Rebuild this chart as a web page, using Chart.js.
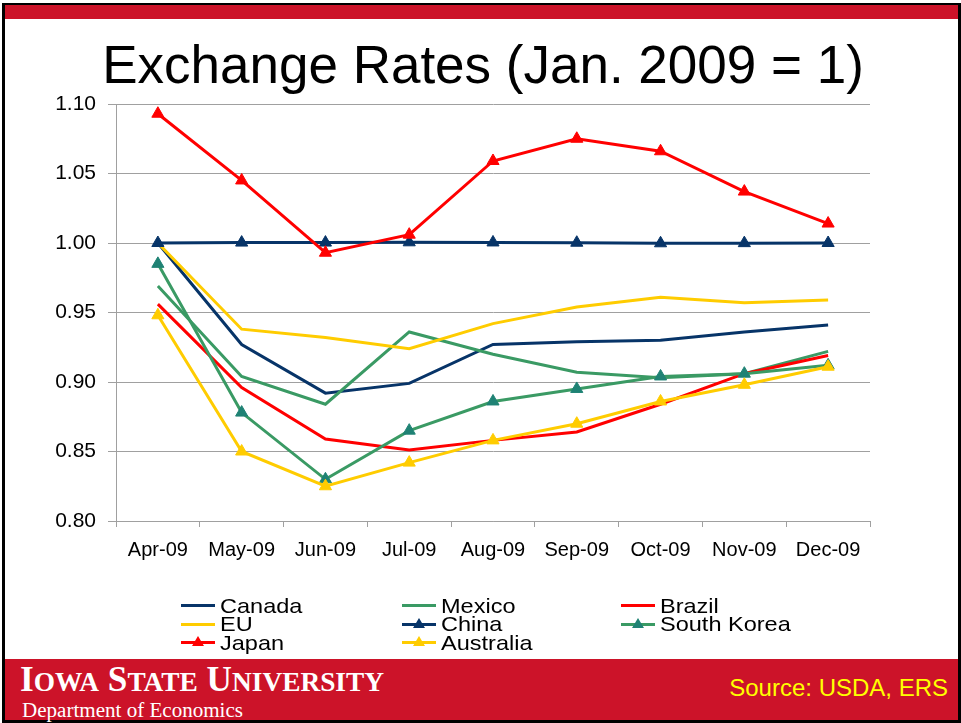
<!DOCTYPE html>
<html>
<head>
<meta charset="utf-8">
<script src="https://cdn.jsdelivr.net/npm/chart.js@4/dist/chart.umd.min.js"></script>
<style>
body { margin: 0; width: 961px; height: 723px; position: relative; overflow: hidden; background: #fff; font-family: "Liberation Sans", Arial, sans-serif; }
.frame { position: absolute; left: 2px; top: 3px; width: 959px; height: 720px; box-sizing: border-box; border: 3px solid #000; }
.topbar { position: absolute; left: 5px; top: 5px; width: 953px; height: 14px; background: #cc1329; }
.footer { position: absolute; left: 5px; top: 659px; width: 953px; height: 61px; background: #cc1329; }
.title { position: absolute; left: 0; top: 38px; width: 966px; text-align: center; font-size: 53px; line-height: 53px; color: #000; white-space: nowrap; }
.wrap { position: absolute; left: 0; top: 0; width: 961px; height: 600px; }
.item { position: absolute; height: 18px; display: flex; align-items: center; font-size: 21px; line-height: 18px; white-space: nowrap; }
.sw { width: 34px; height: 3px; position: relative; margin-right: 5px; flex: none; }
.tri { position: absolute; left: 11px; top: -5px; width: 0; height: 0; border-left: 6px solid transparent; border-right: 6px solid transparent; border-bottom: 10px solid #000; }
.txt { display: inline-block; transform-origin: left center; }
.isu { position: absolute; left: 20px; top: 661px; font-family: "Liberation Serif", "Times New Roman", serif; font-weight: bold; color: #fff; font-size: 36px; line-height: 36px; white-space: nowrap; transform-origin: left center; }
.isu .sm { font-size: 28px; }
.dept { position: absolute; left: 22px; top: 700px; font-family: "Liberation Serif", "Times New Roman", serif; color: #fff; font-size: 20px; line-height: 20px; white-space: nowrap; transform-origin: left center; }
.source { position: absolute; right: 13px; top: 676px; color: #ffff00; font-size: 24px; line-height: 24px; white-space: nowrap; }
</style>
</head>
<body>
<div class="frame"></div>
<div class="topbar"></div>
<div class="footer"></div>
<div class="title">Exchange Rates (Jan. 2009 = 1)</div>
<div class="wrap"><canvas id="myChart"></canvas></div>
<div id="legend"></div>
<div class="isu" id="isu">I<span class="sm">OWA</span> S<span class="sm">TATE</span> U<span class="sm">NIVERSITY</span></div>
<div class="dept" id="dept">Department of Economics</div>
<div class="source">Source: USDA, ERS</div>
<script>
const months = ['Apr-09', 'May-09', 'Jun-09', 'Jul-09', 'Aug-09', 'Sep-09', 'Oct-09', 'Nov-09', 'Dec-09'];
const yTicks = [0.80, 0.85, 0.90, 0.95, 1.00, 1.05, 1.10];

const canada = [1.000, 0.927, 0.892, 0.899, 0.927, 0.929, 0.930, 0.936, 0.941];
const mexico = [0.969, 0.904, 0.884, 0.936, 0.920, 0.907, 0.903, 0.906, 0.922];
const brazil = [0.956, 0.896, 0.859, 0.851, 0.858, 0.864, 0.884, 0.906, 0.919];
const eu = [1.000, 0.938, 0.932, 0.924, 0.942, 0.954, 0.961, 0.957, 0.959];
const china = [1.000, 1.0003, 1.0003, 1.0005, 1.0004, 1.0002, 0.9998, 0.9999, 1.000];
const southKorea = [0.985, 0.878, 0.830, 0.865, 0.886, 0.895, 0.904, 0.906, 0.912];
const japan = [1.093, 1.045, 0.993, 1.006, 1.059, 1.075, 1.066, 1.037, 1.014];
const australia = [0.948, 0.850, 0.825, 0.842, 0.858, 0.870, 0.886, 0.898, 0.911];

const navy = '#073468';
const green = '#3a9a64';
const teal = '#1f8274';
const red = '#ff0000';
const yellow = '#ffcc00';
const gray = '#a0a0a0';

function series(label, data, color, marker, markerColor)
{
    return {
        label: label,
        data: data,
        borderColor: color,
        backgroundColor: color,
        borderWidth: 3,
        pointStyle: 'triangle',
        pointRadius: marker ? 7 : 0,
        pointHoverRadius: marker ? 7 : 0,
        pointBackgroundColor: markerColor || color,
        pointBorderColor: markerColor || color,
        pointBorderWidth: 1,
        tension: 0,
        fill: false
    };
}

let sets = [
    series('Canada', canada, navy, false),
    series('Mexico', mexico, green, false),
    series('Brazil', brazil, red, false),
    series('EU', eu, yellow, false),
    series('China', china, navy, true),
    series('South Korea', southKorea, green, true, teal),
    series('Japan', japan, red, true),
    series('Australia', australia, yellow, true)
];
// later series on top, like excel
for (let i = 0; i < sets.length; i++) {
    sets[i].order = sets.length - i;
}

let canvas = document.getElementById('myChart').getContext('2d');
let myChart = new Chart(canvas, {
    type: 'line',
    data: { labels: months, datasets: sets },
    options: {
        responsive: true,
        maintainAspectRatio: false,
        animation: false,
        layout: { padding: { top: 104, right: 91, left: 0, bottom: 0 } },
        plugins: { legend: { display: false }, tooltip: { enabled: false } },
        scales: {
            x: {
                offset: true,
                grid: { offset: true, drawOnChartArea: false, tickLength: 6, color: gray },
                border: { color: gray },
                ticks: { color: '#000', padding: 11, maxRotation: 0, font: { size: 20, family: '"Liberation Sans", Arial' } },
                afterFit: function(axis) { axis.height = 79; }
            },
            y: {
                min: 0.8,
                max: 1.1,
                afterBuildTicks: function(axis) { axis.ticks = yTicks.map(v => ({ value: v })); },
                grid: { color: gray, tickLength: 8 },
                border: { color: gray },
                ticks: {
                    color: '#000',
                    padding: 12,
                    font: { size: 21, family: '"Liberation Sans", Arial' },
                    callback: function(v) { return Number(v).toFixed(2); }
                },
                afterFit: function(axis) { axis.width = 116; }
            }
        }
    }
});

// legend, 3 columns like the slide
const legendCols = [181, 402, 621];
const legendRows = [596.5, 615, 633.5];
const legend = document.getElementById('legend');
myChart.data.datasets.forEach(function(ds, i) {
    let item = document.createElement('div');
    item.className = 'item';
    item.style.left = legendCols[i % 3] + 'px';
    item.style.top = legendRows[Math.floor(i / 3)] + 'px';
    let sw = document.createElement('span');
    sw.className = 'sw';
    sw.style.background = ds.borderColor;
    if (ds.pointRadius > 0) {
        let tri = document.createElement('span');
        tri.className = 'tri';
        tri.style.borderBottomColor = ds.pointBackgroundColor;
        sw.appendChild(tri);
    }
    let txt = document.createElement('span');
    txt.className = 'txt';
    txt.textContent = ds.label;
    txt.style.transform = 'scaleX(1.12)';
    item.appendChild(sw);
    item.appendChild(txt);
    legend.appendChild(item);
});

function fitWidth(el, w)
{
    let cur = el.getBoundingClientRect().width;
    el.style.transform = 'scaleX(' + (w / cur) + ')';
}
fitWidth(document.getElementById('isu'), 364);
fitWidth(document.getElementById('dept'), 221);
</script>
</body>
</html>
